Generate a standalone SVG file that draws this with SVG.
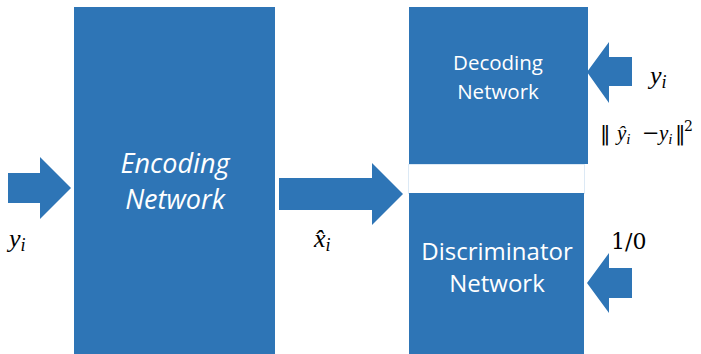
<svg xmlns="http://www.w3.org/2000/svg" width="701" height="354" viewBox="0 0 701 354">
<style>
.box{fill:#2E75B6}
.arr{fill:#2E75B6}
.wt{fill:#fff;font-family:"Open Sans","Liberation Sans",sans-serif;text-anchor:middle}
.m{font-family:"Liberation Serif","DejaVu Serif",serif;font-style:italic;fill:#000}
.r{font-family:"DejaVu Serif","Liberation Serif",serif;fill:#000}
</style>
<rect x="0" y="0" width="701" height="354" fill="#fff"/>
<g id="connectors">
<polygon class="arr" points="8,173 40,173 40,157 71,188 40,219 40,203 8,203"/>
<polygon class="arr" points="279,178 372,178 372,163 403,194 372,225 372,210 279,210"/>
<polygon class="arr" points="632,57 609,57 609,42 587,72 609,103 609,86 632,86"/>
<polygon class="arr" points="632,268 609,268 609,253 587,283 609,313 609,298 632,298"/>
</g>
<g id="encoding">
<rect class="box" x="74" y="7" width="201" height="347"/>
<text class="wt" x="175" y="173" font-size="27" font-style="italic">Encoding</text>
<text class="wt" x="175" y="209" font-size="27" font-style="italic">Network</text>
</g>
<g id="gap">
<rect x="408.5" y="164.5" width="176" height="29" fill="none" stroke="#DCE9F5" stroke-width="1"/>
</g>
<g id="decoding">
<rect class="box" x="409" y="7" width="179" height="157"/>
<text class="wt" x="498" y="70" font-size="20.5">Decoding</text>
<text class="wt" x="498" y="99" font-size="20.5">Network</text>
</g>
<g id="discriminator">
<rect class="box" x="409" y="193" width="175" height="161"/>
<text class="wt" x="497" y="260" font-size="24">Discriminator</text>
<text class="wt" x="497" y="292" font-size="24">Network</text>
</g>
<g id="labels">
<text class="m" x="9" y="247" font-size="26">y<tspan font-size="18" dy="4">i</tspan></text>
<text class="m" x="314" y="247" font-size="26">x&#x302;<tspan font-size="18" dy="4">i</tspan></text>
<text class="m" x="650" y="84" font-size="26">y<tspan font-size="18" dy="4">i</tspan></text>
<g font-size="21">
<text class="r" x="600" y="140">‖</text>
<text class="m" x="617" y="140">y&#x302;<tspan font-size="15" dy="4">i</tspan></text>
<text class="r" x="642" y="140">−</text>
<text class="m" x="659" y="140">y<tspan font-size="15" dy="4">i</tspan></text>
<text class="r" x="675" y="140">‖</text>
<text class="r" x="684" y="131" font-size="14">2</text>
</g>
<text class="r" x="611" y="249" font-size="22">1/0</text>
</g>
</svg>
